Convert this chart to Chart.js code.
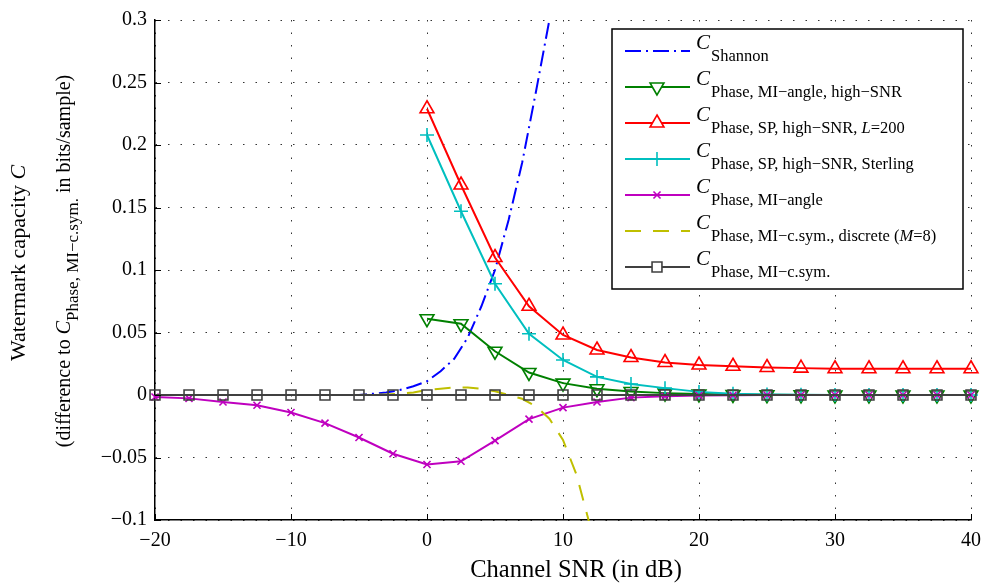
<!doctype html>
<html lang="en">
<head>
<meta charset="utf-8">
<title>Watermark capacity vs. channel SNR</title>
<style>
  * { margin: 0; padding: 0; }
  body { background: #fff; }
  .chartBox { width: 990px; height: 584px; }
</style>
</head>
<body>
<div class="chartBox"><canvas id="myChart" width="990" height="584"></canvas></div>
<script src="https://cdn.jsdelivr.net/npm/chart.js/dist/chart.umd.min.js"></script>
<script>
// SNR axes (dB)
const snrGrid = [-20, -17.5, -15, -12.5, -10, -7.5, -5, -2.5, 0, 2.5, 5, 7.5, 10, 12.5, 15, 17.5, 20, 22.5, 25, 27.5, 30, 32.5, 35, 37.5, 40];
const snrHigh = [0, 2.5, 5, 7.5, 10, 12.5, 15, 17.5, 20, 22.5, 25, 27.5, 30, 32.5, 35, 37.5, 40];
const snrShannon = [-20, -15, -10, -5, -4, -3, -2, -1, 0, 1, 2, 3, 4, 5, 6, 7, 8, 9, 10];
const snrDiscrete = [-20, -10, -5, -3, -2, -1, 0, 1, 2, 3, 4, 5, 6, 7, 8, 9, 10, 11, 12];

// capacity difference (bits/sample)
const capShannon = [0, 0, 0, 0, 0.001, 0.002, 0.004, 0.007, 0.011, 0.019, 0.029, 0.046, 0.071, 0.100, 0.140, 0.186, 0.242, 0.300, 0.365];
const capAngleHigh = [0.061, 0.057, 0.035, 0.018, 0.0095, 0.005, 0.0028, 0.0015, 0.0008, 0.0004, 0.0002, 0.0001, 0, 0, 0, 0, 0];
const capSpL200 = [0.229, 0.168, 0.110, 0.071, 0.048, 0.036, 0.030, 0.026, 0.024, 0.023, 0.022, 0.0215, 0.021, 0.021, 0.021, 0.021, 0.021];
const capSpSterling = [0.208, 0.147, 0.089, 0.049, 0.028, 0.0145, 0.0088, 0.0055, 0.0025, 0.001, 0.0004, 0.0002, 0, 0, 0, 0, 0];
const capAngle = [-0.0016, -0.0027, -0.0056, -0.0082, -0.014, -0.0225, -0.034, -0.047, -0.0556, -0.053, -0.0365, -0.0193, -0.0101, -0.0056, -0.0021, -0.001, -0.0004, -0.0002, 0, 0, 0, 0, 0, 0, 0];
const capDiscrete = [0, 0, 0, 0.0005, 0.001, 0.002, 0.004, 0.005, 0.006, 0.006, 0.005, 0.003, 0, -0.003, -0.009, -0.019, -0.036, -0.064, -0.105];
const capCsym = [0, 0, 0, 0, 0, 0, 0, 0, 0, 0, 0, 0, 0, 0, 0, 0, 0, 0, 0, 0, 0, 0, 0, 0, 0];

// ticks
const xTicks = [-20, -10, 0, 10, 20, 30, 40];
const xTickLabels = ['\u221220', '\u221210', '0', '10', '20', '30', '40'];
const yTicks = [-0.1, -0.05, 0, 0.05, 0.1, 0.15, 0.2, 0.25, 0.3];
const yTickLabels = ['\u22120.1', '\u22120.05', '0', '0.05', '0.1', '0.15', '0.2', '0.25', '0.3'];

// legend subscripts, *...* is italic
const seriesSubs = [
  'Shannon',
  'Phase, MI\u2212angle, high\u2212SNR',
  'Phase, SP, high\u2212SNR, *L*=200',
  'Phase, SP, high\u2212SNR, Sterling',
  'Phase, MI\u2212angle',
  'Phase, MI\u2212c.sym., discrete (*M*=8)',
  'Phase, MI\u2212c.sym.'
];

const SERIF = '"Liberation Serif", "Times New Roman", serif';

function pts(xs, ys) {
  return xs.map((x, i) => ({ x: x, y: ys[i] }));
}

const edgeClip = { left: 12, right: 12, top: 1, bottom: 1 };

function series(data, color, extra) {
  return Object.assign({
    data: data,
    showLine: true,
    borderColor: color,
    backgroundColor: color,
    borderWidth: 2,
    tension: 0,
    pointRadius: 0,
    pointHoverRadius: 0,
    pointBorderColor: color,
    pointBackgroundColor: 'rgba(0,0,0,0)',
    pointBorderWidth: 1.6,
    clip: edgeClip
  }, extra);
}

const datasets = [
  series(pts(snrShannon, capShannon), '#0000ff', { borderDash: [16, 5, 2, 5], order: 7 }),
  series(pts(snrHigh, capAngleHigh), '#008000', { pointStyle: 'triangle', pointRotation: 180, pointRadius: 8, order: 6 }),
  series(pts(snrHigh, capSpL200), '#ff0000', { pointStyle: 'triangle', pointRadius: 8, order: 5 }),
  series(pts(snrHigh, capSpSterling), '#00bfbf', { pointStyle: 'cross', pointRadius: 7, order: 4 }),
  series(pts(snrGrid, capAngle), '#bf00bf', { pointStyle: 'crossRot', pointRadius: 5, order: 3 }),
  series(pts(snrDiscrete, capDiscrete), '#bfbf00', { borderDash: [16, 12], order: 2 }),
  series(pts(snrGrid, capCsym), '#404040', { pointStyle: 'rect', pointRadius: 7, order: 1 })
];

function fontOf(p) {
  return (p.italic ? 'italic ' : '') + p.size + 'px ' + SERIF;
}

function subParts(str, size, dy) {
  return str.split('*').map((t, i) => ({ t: t, size: size, italic: i % 2 === 1, dy: dy }));
}

function drawRich(ctx, parts, x, y, align) {
  let w = 0;
  parts.forEach(p => { ctx.font = fontOf(p); w += ctx.measureText(p.t).width; });
  let cx = align === 'center' ? x - w / 2 : x;
  ctx.textAlign = 'left';
  ctx.textBaseline = 'alphabetic';
  parts.forEach(p => {
    ctx.font = fontOf(p);
    ctx.fillText(p.t, cx, y + (p.dy || 0));
    cx += ctx.measureText(p.t).width;
  });
}

// inward ticks, axis titles and the boxed legend
const decorations = {
  id: 'decorations',
  afterDraw(chart) {
    const ctx = chart.ctx;
    const area = chart.chartArea;
    const xs = chart.scales.x, ys = chart.scales.y;
    ctx.save();
    ctx.strokeStyle = '#000';
    ctx.lineWidth = 1;
    ctx.beginPath();
    xTicks.forEach(v => {
      const px = Math.round(xs.getPixelForValue(v)) + 0.5;
      ctx.moveTo(px, area.bottom);
      ctx.lineTo(px, area.bottom - 6);
    });
    yTicks.forEach(v => {
      const py = Math.round(ys.getPixelForValue(v)) + 0.5;
      ctx.moveTo(area.left, py);
      ctx.lineTo(area.left + 6, py);
    });
    ctx.stroke();

    ctx.fillStyle = '#000';
    // x title
    drawRich(ctx, [{ t: 'Channel SNR (in dB)', size: 24.5 }], 576, 577, 'center');

    // y title, two rotated lines
    ctx.save();
    ctx.translate(25, 263);
    ctx.rotate(-Math.PI / 2);
    drawRich(ctx, [{ t: 'Watermark capacity ', size: 22 }, { t: 'C', size: 22, italic: true }], 0, 0, 'center');
    ctx.restore();
    ctx.save();
    ctx.translate(70, 261);
    ctx.rotate(-Math.PI / 2);
    drawRich(ctx, [
      { t: '(difference to ', size: 20 },
      { t: 'C', size: 20, italic: true },
      { t: 'Phase, MI\u2212c.sym.', size: 17, dy: 8 },
      { t: ' in bits/sample)', size: 20 }
    ], 0, 0, 'center');
    ctx.restore();

    // legend
    const bx = 612, by = 29, bw = 351, bh = 260;
    ctx.fillStyle = '#fff';
    ctx.fillRect(bx, by, bw, bh);
    ctx.strokeStyle = '#000';
    ctx.lineWidth = 1.5;
    ctx.strokeRect(bx, by, bw, bh);
    chart.data.datasets.forEach((ds, i) => {
      const rowY = 51 + i * 36;
      ctx.save();
      ctx.strokeStyle = ds.borderColor;
      ctx.lineWidth = ds.borderWidth;
      ctx.setLineDash(ds.borderDash || []);
      ctx.beginPath();
      ctx.moveTo(625, rowY);
      ctx.lineTo(690, rowY);
      ctx.stroke();
      ctx.setLineDash([]);
      if (ds.pointRadius > 0) {
        ctx.lineWidth = ds.pointBorderWidth;
        ctx.fillStyle = '#fff';
        Chart.helpers.drawPoint(ctx, {
          pointStyle: ds.pointStyle,
          radius: ds.pointRadius,
          rotation: ds.pointRotation || 0,
          borderWidth: ds.pointBorderWidth
        }, 657, rowY);
      }
      ctx.restore();
      ctx.fillStyle = '#000';
      drawRich(ctx, [{ t: 'C', size: 21, italic: true }], 696, rowY - 2, 'left');
      drawRich(ctx, subParts(seriesSubs[i], 16.5, 0), 711, rowY + 10, 'left');
    });
    ctx.restore();
  }
};

const config = {
  type: 'scatter',
  data: { datasets: datasets },
  options: {
    responsive: false,
    animation: false,
    layout: { padding: { left: 0, top: 16, right: 14, bottom: 0 } },
    plugins: {
      legend: { display: false },
      tooltip: { enabled: false }
    },
    scales: {
      x: {
        type: 'linear',
        min: -20,
        max: 40,
        afterBuildTicks: axis => { axis.ticks = xTicks.map(v => ({ value: v })); },
        afterFit: axis => { axis.height = 64; },
        ticks: {
          color: '#000',
          font: { family: SERIF, size: 20 },
          padding: 9,
          maxRotation: 0,
          callback: (v, i) => xTickLabels[i]
        },
        grid: { color: '#333', lineWidth: 1, drawTicks: false },
        border: { display: true, color: '#000', width: 1.5, dash: [1.5, 11] }
      },
      y: {
        type: 'linear',
        min: -0.1,
        max: 0.3,
        afterBuildTicks: axis => { axis.ticks = yTicks.map(v => ({ value: v })); },
        afterFit: axis => { axis.width = 155; },
        ticks: {
          color: '#000',
          font: { family: SERIF, size: 20 },
          padding: 8,
          callback: (v, i) => yTickLabels[i]
        },
        grid: { color: '#333', lineWidth: 1, drawTicks: false },
        border: { display: true, color: '#000', width: 1.5, dash: [1.5, 11] }
      }
    }
  },
  plugins: [decorations]
};

const myChart = new Chart(document.getElementById('myChart'), config);
</script>
</body>
</html>
